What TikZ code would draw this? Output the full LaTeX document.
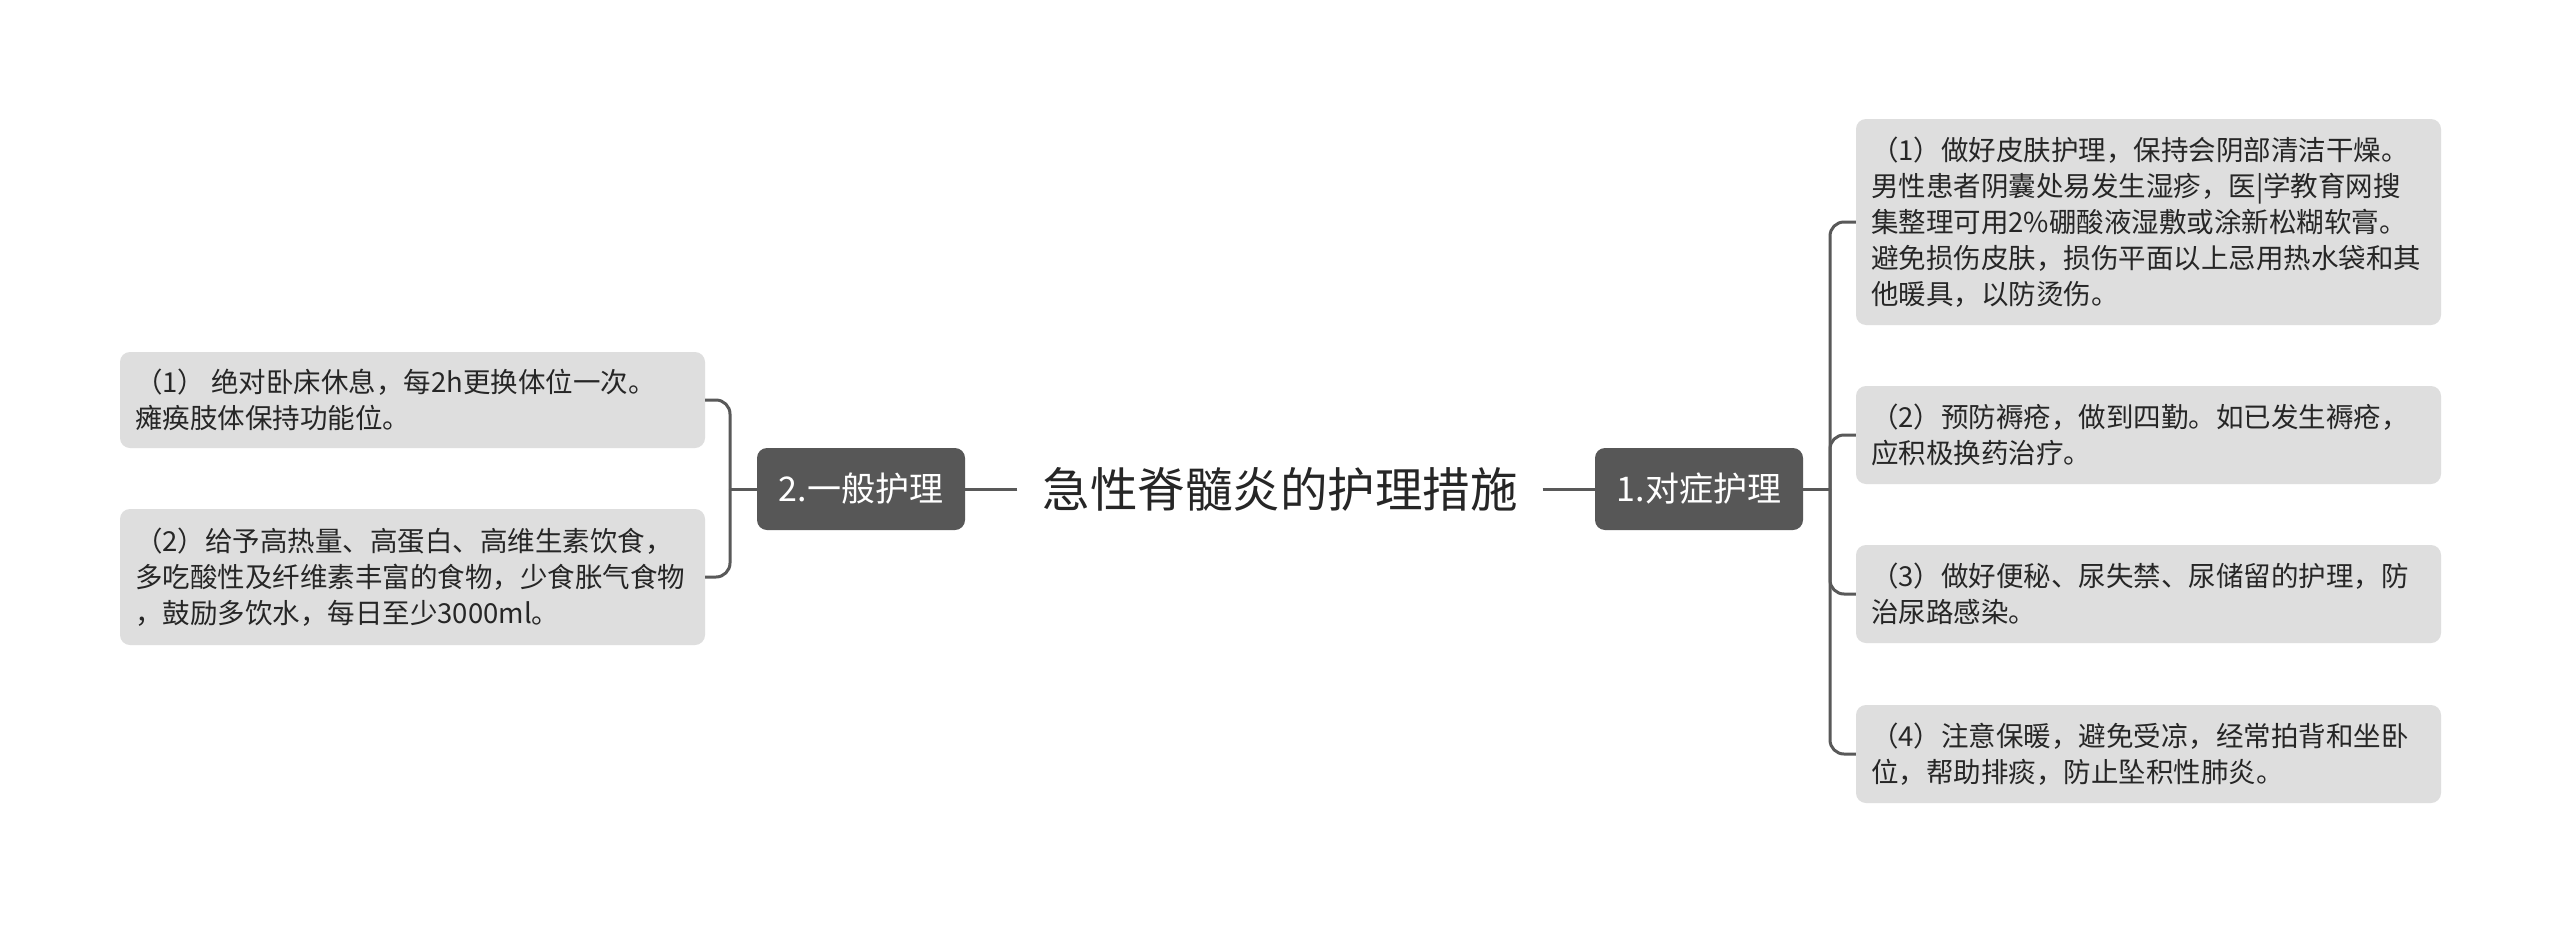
\documentclass[tikz,border=0pt]{standalone}
\usepackage{fontspec}
\setmainfont{Noto Sans CJK SC}
\definecolor{leafgray}{HTML}{DEDEDE}
\definecolor{branchgray}{HTML}{575757}
\definecolor{linegray}{HTML}{595959}
\definecolor{txt}{HTML}{262626}
\begin{document}
\begin{tikzpicture}[x=1pt,y=-1pt,
  leaf/.style={fill=leafgray, rounded corners=10pt, minimum width=585pt, inner sep=0pt, draw=none},
  leaftext/.style={anchor=west, align=left, inner sep=0pt, font=\fontsize{27.5}{36}\selectfont, text=txt},
  branch/.style={fill=branchgray, rounded corners=10pt, minimum width=208pt, minimum height=82pt, text=white, font=\fontsize{34}{40}\selectfont, inner sep=0pt},
  rootnode/.style={font=\fontsize{47.5}{56}\selectfont, text=txt, inner xsep=25pt, inner ysep=6pt},
  conn/.style={draw=linegray, line width=3pt},
]
\useasboundingbox (0,0) rectangle (2560,924);
\fill[white] (0,0) rectangle (2560,924);

% root and branches
\node[rootnode] (root) at (1280,489) {急性脊髓炎的护理措施};
\node[branch] (b2) at (861,489) {2.一般护理};
\node[branch] (b1) at (1699,489) {1.对症护理};

% left leaves
\node[leaf, minimum height=96pt] (l1) at (412.5,400) {};
\node[leaftext] (l1t) at ([xshift=15pt]l1.west) {（1） 绝对卧床休息，每2h更换体位一次。\\瘫痪肢体保持功能位。};
\node[leaf, minimum height=136pt] (l2) at (412.5,577) {};
\node[leaftext] (l2t) at ([xshift=15pt]l2.west) {（2）给予高热量、高蛋白、高维生素饮食，\\多吃酸性及纤维素丰富的食物，少食胀气食物\\，鼓励多饮水，每日至少3000ml。};

% right leaves
\node[leaf, minimum height=206pt] (r1) at (2148.5,222) {};
\node[leaftext] (r1t) at ([xshift=15pt]r1.west) {（1）做好皮肤护理，保持会阴部清洁干燥。\\男性患者阴囊处易发生湿疹，医|学教育网搜\\集整理可用2\%硼酸液湿敷或涂新松糊软膏。\\避免损伤皮肤，损伤平面以上忌用热水袋和其\\他暖具，以防烫伤。};
\node[leaf, minimum height=98pt] (r2) at (2148.5,435) {};
\node[leaftext] (r2t) at ([xshift=15pt]r2.west) {（2）预防褥疮，做到四勤。如已发生褥疮，\\应积极换药治疗。};
\node[leaf, minimum height=98pt] (r3) at (2148.5,594) {};
\node[leaftext] (r3t) at ([xshift=15pt]r3.west) {（3）做好便秘、尿失禁、尿储留的护理，防\\治尿路感染。};
\node[leaf, minimum height=98pt] (r4) at (2148.5,754) {};
\node[leaftext] (r4t) at ([xshift=15pt]r4.west) {（4）注意保暖，避免受凉，经常拍背和坐卧\\位，帮助排痰，防止坠积性肺炎。};

% connectors
\coordinate (lj) at (730,489);
\coordinate (rj) at (1830,489);
\draw[conn] (root.west) -- (b2.east);
\draw[conn] (root.east) -- (b1.west);
\draw[conn] (b2.west) -- (lj);
\draw[conn, rounded corners=14pt] (lj) |- (l1.east);
\draw[conn, rounded corners=14pt] (lj) |- (l2.east);
\draw[conn] (b1.east) -- (rj);
\draw[conn, rounded corners=14pt] (rj) |- (r1.west);
\draw[conn, rounded corners=14pt] (rj) |- (r2.west);
\draw[conn, rounded corners=14pt] (rj) |- (r3.west);
\draw[conn, rounded corners=14pt] (rj) |- (r4.west);
\end{tikzpicture}
\end{document}
